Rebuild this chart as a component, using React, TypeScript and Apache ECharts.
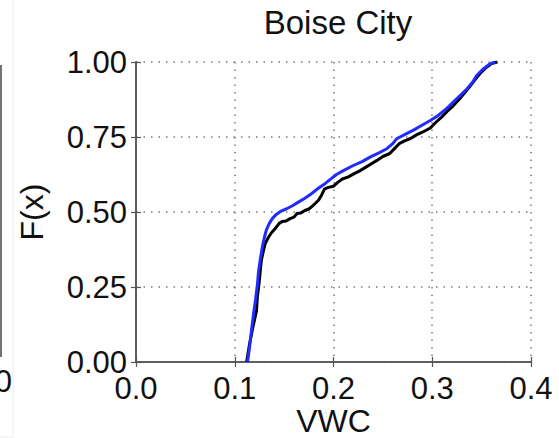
import React, { useEffect, useRef } from "react";
import * as echarts from "echarts";

// Empirical CDFs of volumetric water content at Boise City
const blueVWC = [
  0.113, 0.115, 0.117, 0.119, 0.121, 0.123, 0.124, 0.126, 0.128, 0.13, 0.132, 0.135, 0.138, 0.142,
  0.147, 0.152, 0.158, 0.164, 0.171, 0.178, 0.185, 0.192, 0.198, 0.203, 0.21, 0.22, 0.229, 0.237,
  0.246, 0.254, 0.26, 0.264, 0.272, 0.281, 0.29, 0.298, 0.306, 0.315, 0.325, 0.335, 0.341, 0.345,
  0.351, 0.358, 0.364,
];
const blueF = [
  0.0, 0.05, 0.107, 0.16, 0.207, 0.26, 0.3, 0.345, 0.385, 0.415, 0.44, 0.462, 0.478, 0.492, 0.503,
  0.51, 0.52, 0.532, 0.546, 0.562, 0.58, 0.596, 0.612, 0.625, 0.638, 0.655, 0.668, 0.683, 0.697,
  0.711, 0.728, 0.744, 0.758, 0.773, 0.79, 0.805, 0.822, 0.846, 0.878, 0.91, 0.933, 0.955, 0.975,
  0.993, 1.0,
];
const blackVWC = [
  0.112, 0.115, 0.118, 0.12, 0.122, 0.123, 0.125, 0.126, 0.127, 0.129, 0.131, 0.134, 0.137, 0.141,
  0.145, 0.148, 0.152, 0.156, 0.16, 0.163, 0.167, 0.171, 0.175, 0.178, 0.182, 0.185, 0.188, 0.191,
  0.195, 0.2, 0.204, 0.209, 0.215, 0.221, 0.227, 0.232, 0.238, 0.244, 0.25, 0.257, 0.262, 0.267,
  0.272, 0.278, 0.284, 0.29, 0.298, 0.304, 0.31, 0.315, 0.321, 0.328, 0.333, 0.338, 0.343, 0.348,
  0.354, 0.36, 0.366,
];
const blackF = [
  0.0, 0.06, 0.11, 0.14, 0.17, 0.22, 0.273, 0.31, 0.34, 0.37, 0.396, 0.415, 0.43, 0.445, 0.462,
  0.468, 0.47, 0.478, 0.483, 0.495, 0.497, 0.505, 0.51, 0.518, 0.53, 0.54, 0.557, 0.577, 0.582,
  0.586, 0.598, 0.61, 0.617, 0.628, 0.638, 0.648, 0.66, 0.672, 0.685, 0.695, 0.712, 0.729, 0.737,
  0.745, 0.757, 0.766, 0.78, 0.8, 0.818, 0.835, 0.853, 0.878, 0.898, 0.918, 0.94, 0.96, 0.98,
  0.995, 1.0,
];

const xTicks = ["0.0", "0.1", "0.2", "0.3", "0.4"];
const yTicks = ["0.00", "0.25", "0.50", "0.75", "1.00"];

const FONT = "Liberation Sans, Arial, sans-serif";

const pairs = (xs: number[], ys: number[]) => xs.map((x, i) => [x, ys[i]]);

export default function App() {
  const ref = useRef<HTMLDivElement>(null);

  useEffect(() => {
    if (!ref.current) return;
    const chart = echarts.init(ref.current, undefined, { renderer: "svg" });

    const gridLine = { show: true, lineStyle: { color: "#7a7a7a", width: 1.5, type: [1.5, 6] as number[] } };
    const frame = { show: true, lineStyle: { color: "#555", width: 1.5 } };
    const tick = { show: true, inside: true, length: 5, lineStyle: { color: "#555", width: 1.2 } };

    chart.setOption({
      animation: false,
      backgroundColor: "#fff",
      title: {
        text: "Boise City",
        left: 333,
        top: 1,
        textAlign: "center",
        textStyle: { fontFamily: FONT, fontSize: 33, fontWeight: "normal", color: "#111" },
      },
      grid: {
        left: 136,
        right: 28,
        top: 62,
        bottom: 76,
        containLabel: false,
        outerBoundsMode: "none",
      },
      xAxis: [
        {
          type: "value",
          min: 0,
          max: 0.4,
          interval: 0.1,
          position: "bottom",
          name: "VWC",
          nameLocation: "middle",
          nameGap: 43,
          nameMoveOverlap: false,
          nameTextStyle: { fontFamily: FONT, fontSize: 32, lineHeight: 32, color: "#111" },
          axisLine: frame,
          axisTick: tick,
          splitLine: gridLine,
          axisLabel: {
            margin: 11,
            fontFamily: FONT,
            fontSize: 31,
            lineHeight: 31,
            color: "#111",
            formatter: (v: number) => xTicks[Math.round(v * 10)],
          },
        },
        {
          type: "value",
          min: 0,
          max: 0.4,
          interval: 0.1,
          position: "top",
          axisLine: frame,
          axisTick: tick,
          splitLine: { show: false },
          axisLabel: { show: false },
        },
      ],
      yAxis: [
        {
          type: "value",
          min: 0,
          max: 1,
          interval: 0.25,
          position: "left",
          name: "F(x)",
          nameLocation: "middle",
          nameGap: 88,
          nameRotate: 90,
          nameMoveOverlap: false,
          nameTextStyle: { fontFamily: FONT, fontSize: 32, color: "#111" },
          axisLine: frame,
          axisTick: tick,
          splitLine: gridLine,
          axisLabel: {
            margin: 9,
            fontFamily: FONT,
            fontSize: 31,
            color: "#111",
            formatter: (v: number) => yTicks[Math.round(v * 4)],
          },
        },
        {
          type: "value",
          min: 0,
          max: 1,
          interval: 0.25,
          position: "right",
          axisLine: frame,
          axisTick: tick,
          splitLine: { show: false },
          axisLabel: { show: false },
        },
      ],
      series: [
        {
          type: "line",
          data: pairs(blackVWC, blackF),
          showSymbol: false,
          lineStyle: { color: "#000", width: 3 },
          z: 2,
        },
        {
          type: "line",
          data: pairs(blueVWC, blueF),
          showSymbol: false,
          lineStyle: { color: "#1f2bff", width: 3 },
          z: 3,
        },
      ],
      graphic: [
        // edge of the neighbouring panel
        { type: "line", shape: { x1: 1, y1: 65, x2: 1, y2: 357 }, style: { stroke: "#444", lineWidth: 1.5 } },
        { type: "line", shape: { x1: 13, y1: 0, x2: 13, y2: 437 }, style: { stroke: "#ececec", lineWidth: 1 } },
        { type: "line", shape: { x1: 0, y1: 437, x2: 13, y2: 437 }, style: { stroke: "#ececec", lineWidth: 1 } },
        {
          type: "text",
          x: 12,
          y: 381,
          style: {
            text: "0",
            fontFamily: FONT,
            fontSize: 31,
            fill: "#111",
            align: "right",
            verticalAlign: "middle",
          },
        },
      ],
    });

    return () => chart.dispose();
  }, []);

  return (
    <div
      ref={ref}
      style={{ position: "fixed", left: 0, top: 0, width: 559, height: 438, background: "#fff" }}
    />
  );
}
